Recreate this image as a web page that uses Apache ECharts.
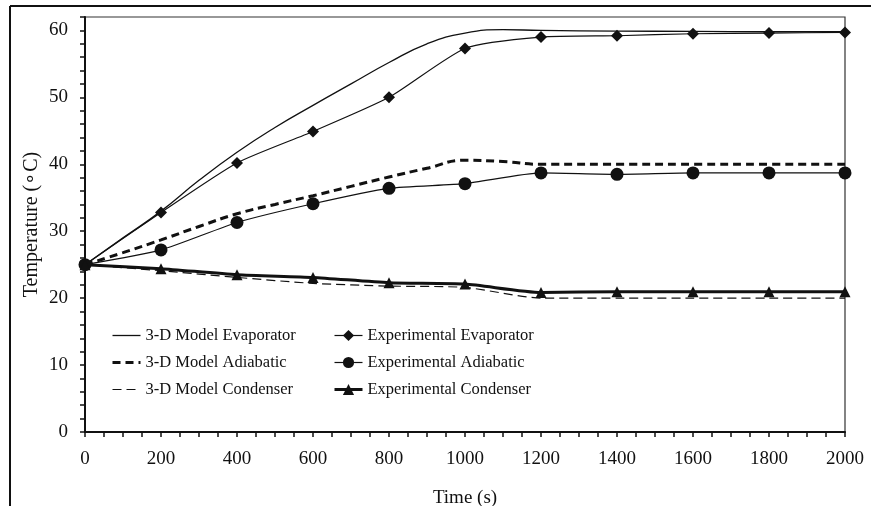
<!DOCTYPE html>
<html>
<head>
<meta charset="utf-8">
<script src="https://cdn.jsdelivr.net/npm/echarts@6/dist/echarts.min.js"></script>
<style>
html,body{margin:0;padding:0;background:#fff;}
#chart{width:871px;height:506px;}
</style>
</head>
<body>
<div id="chart"></div>
<script>
// ---- data ----
const modelTime = [0,100,200,300,400,500,600,700,800,900,1000,1100,1200,1400,1600,1800,2000];
const modelEvaporator = [25,29.0,33.0,37.6,41.8,45.5,48.8,52.0,55.2,58.0,59.6,60.1,60.0,59.9,59.85,59.8,59.8];
const modelAdiabatic  = [25,26.8,28.7,30.7,32.6,34.0,35.3,36.7,38.1,39.4,40.6,40.4,40.0,40.0,40.0,40.0,40.0];
const condTime = [0,200,400,600,800,1000,1200,1400,1600,1800,2000];
const modelCondenser = [25,24.1,23.1,22.2,21.8,21.6,20.0,20.0,20.0,20.0,20.0];
const expTime = [0,200,400,600,800,1000,1200,1400,1600,1800,2000];
const expEvaporator = [25,32.8,40.2,44.9,50.0,57.3,59.0,59.2,59.5,59.6,59.7];
const expAdiabatic  = [25,27.2,31.3,34.1,36.4,37.1,38.7,38.5,38.7,38.7,38.7];
const expCondenser  = [25,24.4,23.5,23.1,22.3,22.1,20.85,20.95,20.95,20.95,20.95];
const seriesNames = ['3-D Model Evaporator','3-D Model Adiabatic','3-D Model Condenser',
                     'Experimental Evaporator','Experimental Adiabatic','Experimental Condenser'];
const xTitle = 'Time (s)';
const yTitle = 'Temperature (\u2218C)';

const pair = (xs, ys) => xs.map((x, i) => [x, ys[i]]);
const FONT = 'Liberation Serif';
const INK = '#111';
const lineWidths = [1.3, 3, 1.2, 1.2, 1.2, 3];

const chart = echarts.init(document.getElementById('chart'));
const legendCommon = {orient: 'vertical', top: 322, itemWidth: 28, itemHeight: 14, itemGap: 10,
  textStyle: {fontFamily: FONT, fontSize: 16.5, color: INK}};
const legendItems = (from, to) => seriesNames.slice(from, to).map((n, i) => ({name: n, lineStyle: {width: lineWidths[from + i]}}));
chart.setOption({
  animation: false,
  backgroundColor: '#fff',
  textStyle: {fontFamily: FONT, color: INK},
  graphic: [
    {type: 'line', shape: {x1: 10, y1: 6, x2: 871, y2: 6}, style: {stroke: INK, lineWidth: 2}},
    {type: 'line', shape: {x1: 10, y1: 6, x2: 10, y2: 506}, style: {stroke: INK, lineWidth: 2}}
  ],
  grid: {left: 85, right: 26, top: 17, bottom: 74, outerBoundsMode: 'none', containLabel: false,
         show: true, borderColor: '#333', borderWidth: 1.2, backgroundColor: 'transparent'},
  legend: [
    Object.assign({data: legendItems(0, 3), left: 106}, legendCommon),
    Object.assign({data: legendItems(3, 6), left: 328}, legendCommon)
  ],
  xAxis: {
    type: 'value', min: 0, max: 2000, interval: 50,
    name: xTitle, nameLocation: 'middle', nameGap: 57, nameMoveOverlap: false,
    nameTextStyle: {fontFamily: FONT, fontSize: 19, color: INK},
    axisLine: {lineStyle: {color: INK, width: 2}},
    axisTick: {show: true, inside: false, length: 5, lineStyle: {color: INK, width: 1.5}},
    axisLabel: {fontFamily: FONT, fontSize: 19, color: INK, margin: 18,
      formatter: v => (v % 200 === 0 ? String(v) : '')},
    splitLine: {show: false}
  },
  yAxis: {
    type: 'value', min: 0, max: 62, interval: 2,
    name: yTitle, nameLocation: 'middle', nameGap: 43, nameRotate: 90, nameMoveOverlap: false,
    nameTextStyle: {fontFamily: FONT, fontSize: 20, color: INK},
    axisLine: {show: true, lineStyle: {color: INK, width: 2}},
    axisTick: {show: true, inside: false, length: 5, lineStyle: {color: INK, width: 1.5}},
    axisLabel: {fontFamily: FONT, fontSize: 19, color: INK, margin: 17,
      formatter: v => (v % 10 === 0 ? String(v) : '')},
    splitLine: {show: false}
  },
  series: [
    {name: seriesNames[0], type: 'line', data: pair(modelTime, modelEvaporator), smooth: 0.5,
     symbol: 'none', lineStyle: {color: INK, width: lineWidths[0]}, itemStyle: {color: 'transparent'}, z: 2},
    {name: seriesNames[1], type: 'line', data: pair(modelTime, modelAdiabatic), smooth: 0.5,
     symbol: 'none', lineStyle: {color: INK, width: lineWidths[1], type: [8,5]}, itemStyle: {color: 'transparent'}, z: 2},
    {name: seriesNames[2], type: 'line', data: pair(condTime, modelCondenser), smooth: 0.2,
     symbol: 'none', lineStyle: {color: INK, width: lineWidths[2], type: [9,5]}, itemStyle: {color: 'transparent'}, z: 2},
    {name: seriesNames[3], type: 'line', data: pair(expTime, expEvaporator), smooth: 0.2,
     symbol: 'diamond', symbolSize: 12, showSymbol: true,
     lineStyle: {color: INK, width: lineWidths[3]}, itemStyle: {color: INK, borderWidth: 0}, z: 3},
    {name: seriesNames[4], type: 'line', data: pair(expTime, expAdiabatic), smooth: 0.2,
     symbol: 'circle', symbolSize: 13, showSymbol: true,
     lineStyle: {color: INK, width: lineWidths[4]}, itemStyle: {color: INK, borderWidth: 0}, z: 3},
    {name: seriesNames[5], type: 'line', data: pair(expTime, expCondenser), smooth: 0.2,
     symbol: 'triangle', symbolSize: 11, showSymbol: true,
     lineStyle: {color: INK, width: lineWidths[5]}, itemStyle: {color: INK, borderWidth: 0}, z: 3}
  ]
});
</script>
</body>
</html>
